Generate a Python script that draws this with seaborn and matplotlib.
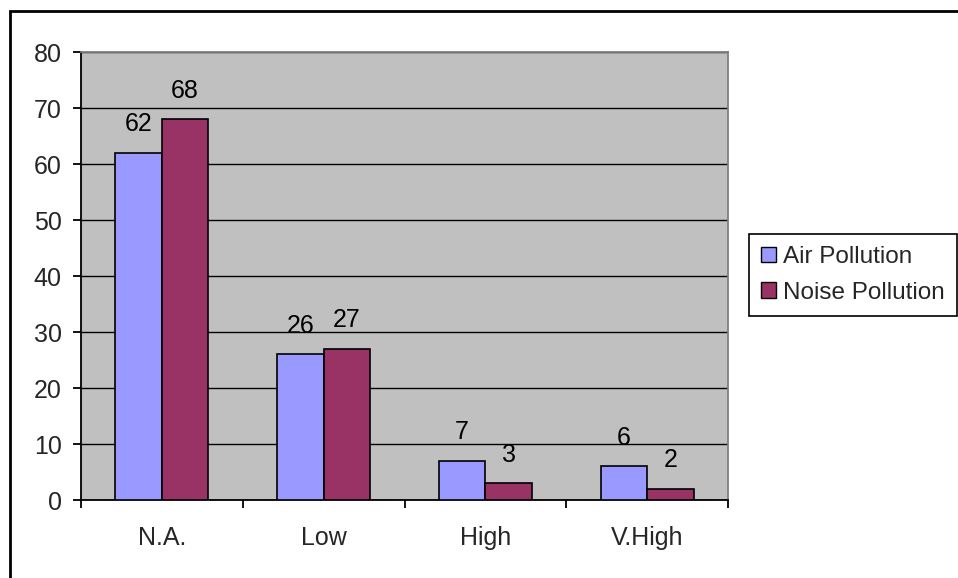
import matplotlib
matplotlib.use("Agg")
import matplotlib.pyplot as plt
import matplotlib.patches as mpatches
import seaborn as sns
import pandas as pd
import numpy as np

# Survey responses: perceived pollution level
categories = ["N.A.", "Low", "High", "V.High"]
series_names = ["Air Pollution", "Noise Pollution"]
air_values = [62, 26, 7, 6]
noise_values = [68, 27, 3, 2]
y_ticks = [0, 10, 20, 30, 40, 50, 60, 70, 80]

colors = ["#9999FF", "#993366"]

df = pd.DataFrame({
    "Level": categories * 2,
    "Series": [series_names[0]] * len(categories) + [series_names[1]] * len(categories),
    "Value": air_values + noise_values,
})

sns.set_theme(style="white")
plt.rcParams["font.family"] = ["Liberation Sans", "DejaVu Sans"]

W, H = 958, 578
fig = plt.figure(figsize=(W / 100, H / 100), dpi=100)
ax = fig.add_axes([81 / W, 1 - 500 / H, (728 - 81) / W, (500 - 52) / H])
ax.set_facecolor("#C0C0C0")

sns.barplot(data=df, x="Level", y="Value", hue="Series", order=categories,
            hue_order=series_names, palette=colors, saturation=1,
            width=0.575, gap=0, edgecolor="black", linewidth=1.2,
            ax=ax, legend=True, zorder=3)

ax.set_ylim(0, 80)
ax.set_xlim(-0.5, len(categories) - 0.5)
ax.set_yticks(y_ticks)
ax.yaxis.grid(True, color="black", linewidth=1.0, zorder=1)
ax.set_axisbelow(True)
ax.set_xlabel("")
ax.set_ylabel("")

for c in ax.containers:
    ax.bar_label(c, padding=12, fontsize=18, color="black")

# spines: black axes, grey border on the remaining sides
for s in ["left", "bottom"]:
    ax.spines[s].set_color("black")
    ax.spines[s].set_linewidth(1.3)
for s in ["top", "right"]:
    ax.spines[s].set_color("#808080")
    ax.spines[s].set_linewidth(1.3)

ax.tick_params(axis="y", which="major", direction="out", length=5.8, width=1.3,
               color="black", left=True, labelsize=18, pad=8)
ax.tick_params(axis="x", which="major", length=0, labelsize=18, pad=19)
ax.set_xticks(np.arange(-0.5, len(categories), 1.0), minor=True)
ax.tick_params(axis="x", which="minor", direction="out", length=5.8, width=1.3,
               color="black", bottom=True)

# legend placed outside the plot area
handles = [mpatches.Patch(facecolor=col, edgecolor="black", linewidth=1.0) for col in colors]
leg_old = ax.get_legend()
if leg_old is not None:
    leg_old.remove()
leg = fig.legend(handles, series_names, loc="upper left",
                 bbox_to_anchor=(749 / W, 1 - 234 / H), bbox_transform=fig.transFigure,
                 fontsize=17.5, frameon=True, fancybox=False, edgecolor="black",
                 framealpha=1, handlelength=0.6, handleheight=0.6, handletextpad=0.3,
                 borderpad=0.5, labelspacing=0.55, borderaxespad=0)
leg.get_frame().set_linewidth(1.2)

# outer chart border
border = mpatches.Rectangle((10 / W, -0.1), 1.2, 1 - 11 / H + 0.1,
                            transform=fig.transFigure, fill=False,
                            edgecolor="black", linewidth=2, zorder=10)
fig.patches.append(border)

fig.savefig("out.png", dpi=100, facecolor="white")
